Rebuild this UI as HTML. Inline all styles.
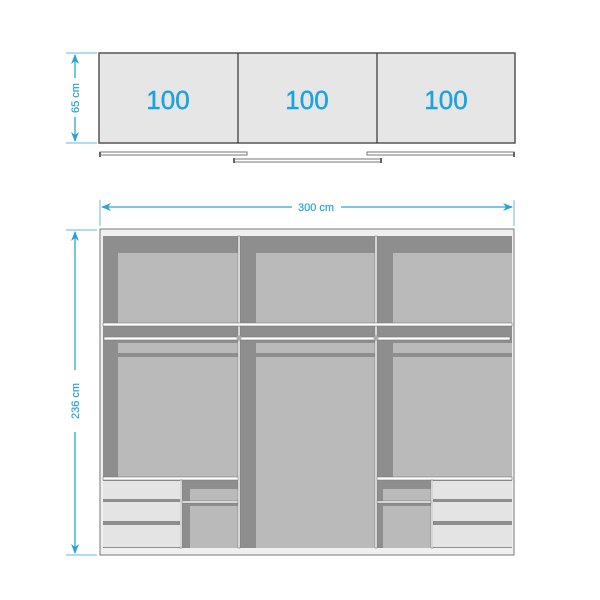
<!DOCTYPE html>
<html><head><style>body{margin:0;background:#fff}svg{display:block}</style></head><body>
<svg width="600" height="600" viewBox="0 0 600 600" xmlns="http://www.w3.org/2000/svg" font-family="Liberation Sans, sans-serif">
<defs>
<marker id="a" markerWidth="10" markerHeight="8" refX="9" refY="4" orient="auto-start-reverse" markerUnits="userSpaceOnUse"><path d="M0,0 L10,4 L0,8 L3,4z" fill="#29a3d6"/></marker>
</defs>
<rect x="99" y="53" width="416" height="90" fill="#e6e6e6" stroke="#555" stroke-width="1.5"/>
<line x1="238" y1="53" x2="238" y2="143" stroke="#333" stroke-width="1.2"/>
<line x1="377" y1="53" x2="377" y2="143" stroke="#333" stroke-width="1.2"/>
<g font-size="26" fill="#1aa3e0" text-anchor="middle" stroke="#1aa3e0" stroke-width="0.4"><text x="168" y="109">100</text><text x="307" y="109">100</text><text x="446" y="109">100</text></g>
<g fill="#fff" stroke="#777" stroke-width="1">
<rect x="100" y="152" width="147" height="3"/><rect x="367" y="152" width="147" height="3"/><rect x="234" y="159" width="147" height="3"/></g>
<g fill="#666"><rect x="99" y="152" width="2" height="5"/><rect x="513" y="152" width="2" height="5"/><rect x="233" y="158" width="2" height="5"/><rect x="380" y="158" width="2" height="5"/></g>
<g stroke="#29a3d6" stroke-width="1.3" fill="none">
<line x1="66" y1="53" x2="97" y2="53" stroke-width="0.7"/><line x1="66" y1="143" x2="97" y2="143" stroke-width="0.7"/>
<line x1="75" y1="55" x2="75" y2="78" marker-start="url(#a)"/><line x1="75" y1="117" x2="75" y2="141" marker-end="url(#a)"/>
<line x1="100" y1="200" x2="100" y2="226" stroke-width="0.7"/><line x1="514" y1="200" x2="514" y2="226" stroke-width="0.7"/>
<line x1="102" y1="207" x2="292" y2="207" marker-start="url(#a)"/><line x1="341" y1="207" x2="512" y2="207" marker-end="url(#a)"/>
<line x1="66" y1="230" x2="97" y2="230" stroke-width="0.7"/><line x1="66" y1="555" x2="97" y2="555" stroke-width="0.7"/>
<line x1="75" y1="232" x2="75" y2="370" marker-start="url(#a)"/><line x1="75" y1="432" x2="75" y2="553" marker-end="url(#a)"/>
</g>
<g fill="#29a3d6" font-size="11" text-anchor="middle" stroke="#29a3d6" stroke-width="0.2">
<text x="316" y="211">300 cm</text>
<text transform="translate(79,98) rotate(-90)">65 cm</text>
<text transform="translate(79,401) rotate(-90)">236 cm</text>
</g>
<rect x="100" y="229" width="414" height="326" fill="#f0f0f0" stroke="#777" stroke-width="1"/>
<rect x="103" y="236" width="409" height="312" fill="#8e8e8e"/>
<g fill="#bababa">
<rect x="118" y="253" width="120" height="70"/><rect x="256" y="253" width="120" height="70"/><rect x="393" y="253" width="119" height="70"/>
<rect x="118" y="343" width="120" height="10"/><rect x="118" y="357" width="120" height="120"/>
<rect x="256" y="343" width="120" height="10"/><rect x="256" y="357" width="120" height="191"/>
<rect x="393" y="343" width="119" height="10"/><rect x="393" y="357" width="119" height="120"/>
<rect x="190" y="489" width="48" height="13"/><rect x="190" y="506" width="48" height="42"/>
<rect x="383" y="489" width="48" height="13"/><rect x="383" y="506" width="48" height="42"/>
</g>
<g fill="#fff" stroke="#777" stroke-width="0.6">
<rect x="238" y="236" width="2" height="312"/><rect x="375" y="236" width="2" height="312"/>
<rect x="103" y="323" width="409" height="3"/>
<rect x="104" y="337" width="406" height="3"/>
<rect x="103" y="477" width="135" height="3"/><rect x="377" y="477" width="135" height="3"/>
<rect x="180" y="480" width="2" height="68"/><rect x="431" y="480" width="2" height="68"/>
<rect x="182" y="501" width="56" height="2"/><rect x="377" y="501" width="54" height="2"/>
</g>
<g fill="#e4e4e4">
<rect x="103" y="481" width="77" height="18"/><rect x="103" y="502" width="77" height="19"/><rect x="103" y="525" width="77" height="22"/>
<rect x="433" y="481" width="79" height="18"/><rect x="433" y="502" width="79" height="19"/><rect x="433" y="525" width="79" height="22"/>
</g>
<g fill="#aaa"><circle cx="239" cy="338" r="2.5"/><circle cx="376" cy="338" r="2.5"/></g>
</svg>
</body></html>
